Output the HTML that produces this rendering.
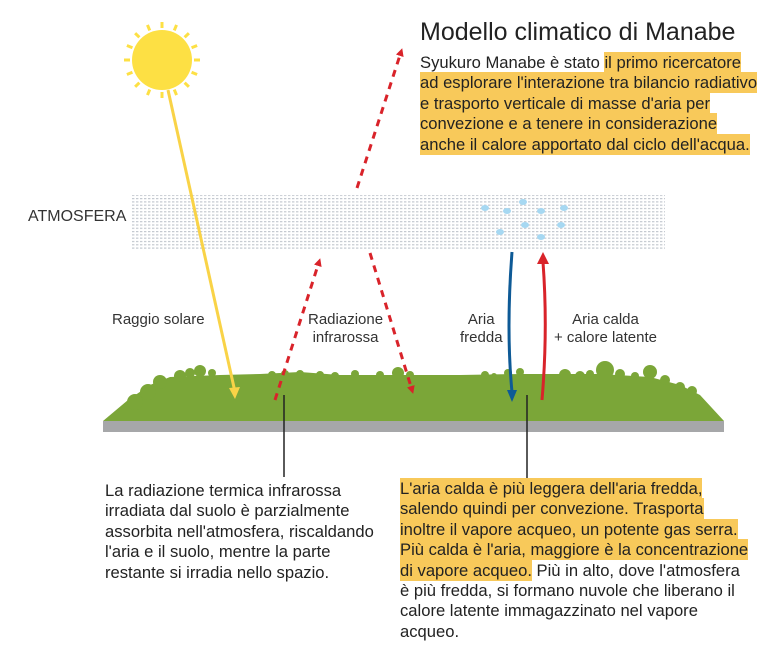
<!DOCTYPE html>
<html><head><meta charset="utf-8"><style>
body{margin:0;width:781px;height:648px;background:#fff;position:relative;overflow:hidden;font-family:"Liberation Sans",Arial,sans-serif;color:#222}
.t{position:absolute;font-size:16.6px;line-height:20.4px;white-space:nowrap}
.h{background:#f8c95a;padding:1px 0 1px}
.l{position:absolute;font-size:15px;color:#333;text-align:center;line-height:18px}
</style></head><body>
<svg width="781" height="648" style="position:absolute;left:0;top:0">
<defs>
<pattern id="dots" width="4" height="3.3" patternUnits="userSpaceOnUse"><rect x="0" y="0" width="2.4" height="1.2" fill="#c3c8cf"/></pattern>
<marker id="ar" markerWidth="8" markerHeight="8" refX="4" refY="4" orient="auto" markerUnits="userSpaceOnUse"><path d="M0,0 L8,4 L0,8 z" fill="#d9232a"/></marker>
</defs>
<rect x="131" y="195" width="534" height="55" fill="url(#dots)"/>
<g fill="#a6d8f2">
<ellipse cx="485" cy="208" rx="4" ry="3"/><ellipse cx="507" cy="211" rx="4" ry="3"/><ellipse cx="523" cy="202" rx="4" ry="3"/><ellipse cx="541" cy="211" rx="4" ry="3"/><ellipse cx="564" cy="208" rx="4" ry="3"/>
<ellipse cx="500" cy="232" rx="4" ry="3"/><ellipse cx="525" cy="225" rx="4" ry="3"/><ellipse cx="561" cy="225" rx="4" ry="3"/><ellipse cx="541" cy="237" rx="4" ry="3"/>
</g>
<rect x="103" y="421" width="621" height="11" fill="#a6a7a9"/>
<g fill="#7ba638">
<path d="M103,421 L128,400 L150,385 L170,377 L220,375 L260,374 L300,372 L340,375 L400,375 L460,375 L520,374 L560,374 L600,374 L650,377 L680,385 L700,395 L724,421 Z"/>
<circle cx="135" cy="402" r="8"/><circle cx="148" cy="392" r="8"/><circle cx="160" cy="382" r="7"/><circle cx="180" cy="376" r="6"/><circle cx="190" cy="373" r="5"/><circle cx="200" cy="371" r="6"/><circle cx="212" cy="373" r="4"/>
<circle cx="272" cy="375" r="4"/><circle cx="285" cy="374" r="4"/><circle cx="300" cy="374" r="4"/><circle cx="320" cy="375" r="4"/><circle cx="335" cy="376" r="4"/><circle cx="355" cy="374" r="4"/><circle cx="380" cy="375" r="4"/><circle cx="398" cy="373" r="6"/><circle cx="410" cy="375" r="4"/>
<circle cx="485" cy="375" r="4"/><circle cx="494" cy="376" r="3"/><circle cx="508" cy="373" r="4"/><circle cx="520" cy="372" r="4"/>
<circle cx="565" cy="375" r="6"/><circle cx="580" cy="376" r="5"/><circle cx="590" cy="374" r="4"/><circle cx="605" cy="370" r="9"/><circle cx="620" cy="374" r="5"/><circle cx="635" cy="376" r="4"/><circle cx="650" cy="372" r="7"/><circle cx="665" cy="380" r="5"/><circle cx="680" cy="387" r="5"/><circle cx="692" cy="391" r="5"/>
</g>
<line x1="168" y1="90" x2="235" y2="392" stroke="#f9d347" stroke-width="3"/>
<path d="M229,388 L235,399 L240,387 Z" fill="#f9d347"/>
<g stroke="#fde044" stroke-width="3" transform="translate(162,60)">
<g id="ray"><line x1="0" y1="-32" x2="0" y2="-38"/></g>
<use href="#ray" transform="rotate(22.5)"/><use href="#ray" transform="rotate(45)"/><use href="#ray" transform="rotate(67.5)"/><use href="#ray" transform="rotate(90)"/><use href="#ray" transform="rotate(112.5)"/><use href="#ray" transform="rotate(135)"/><use href="#ray" transform="rotate(157.5)"/><use href="#ray" transform="rotate(180)"/><use href="#ray" transform="rotate(202.5)"/><use href="#ray" transform="rotate(225)"/><use href="#ray" transform="rotate(247.5)"/><use href="#ray" transform="rotate(270)"/><use href="#ray" transform="rotate(292.5)"/><use href="#ray" transform="rotate(315)"/><use href="#ray" transform="rotate(337.5)"/>
</g>
<circle cx="162" cy="60" r="30" fill="#fde044"/>
<g stroke="#d9232a" stroke-width="3" stroke-dasharray="7,6" fill="none">
<line x1="275" y1="400" x2="319" y2="262" marker-end="url(#ar)"/>
<line x1="370" y1="253" x2="412" y2="390" marker-end="url(#ar)"/>
<line x1="357" y1="188" x2="401" y2="52" marker-end="url(#ar)"/>
</g>
<path d="M512,252 Q506,330 512,392" stroke="#0e5a96" stroke-width="3" fill="none"/>
<path d="M507,390 L512,402 L517,390 Z" fill="#0e5a96"/>
<path d="M542,400 Q548,330 543,262" stroke="#d9232a" stroke-width="3" fill="none"/>
<path d="M537,264 L543,252 L549,264 Z" fill="#d9232a"/>
<line x1="284" y1="395" x2="284" y2="477" stroke="#222" stroke-width="1.5"/>
<line x1="527" y1="395" x2="527" y2="478" stroke="#222" stroke-width="1.5"/>
</svg>
<div class="t" style="left:28px;top:207px;font-size:16px;color:#333">ATMOSFERA</div>
<div class="l" style="left:112px;top:311px">Raggio solare</div>
<div class="l" style="left:308px;top:311px">Radiazione<br>infrarossa</div>
<div class="l" style="left:460px;top:311px">Aria<br>fredda</div>
<div class="l" style="left:554px;top:311px">Aria calda<br>+ calore latente</div>
<div class="t" style="left:420px;top:17px;font-size:25px;line-height:30px;color:#222">Modello climatico di Manabe</div>
<div class="t" style="left:420px;top:53px">Syukuro Manabe è stato <span class="h">il primo ricercatore </span><br><span class="h">ad esplorare l'interazione tra bilancio radiativo</span><br><span class="h">e trasporto verticale di masse d'aria per </span><br><span class="h">convezione e a tenere in considerazione </span><br><span class="h">anche il calore apportato dal ciclo dell'acqua.</span></div>
<div class="t" style="left:105px;top:481px">La radiazione termica infrarossa<br>irradiata dal suolo è parzialmente<br>assorbita nell'atmosfera, riscaldando<br>l'aria e il suolo, mentre la parte<br>restante si irradia nello spazio.</div>
<div class="t" style="left:400px;top:479px"><span class="h">L'aria calda è più leggera dell'aria fredda, </span><br><span class="h">salendo quindi per convezione. Trasporta </span><br><span class="h">inoltre il vapore acqueo, un potente gas serra.</span><br><span class="h">Più calda è l'aria, maggiore è la concentrazione</span><br><span class="h">di vapore acqueo.</span> Più in alto, dove l'atmosfera<br>è più fredda, si formano nuvole che liberano il<br>calore latente immagazzinato nel vapore<br>acqueo.</div>
</body></html>
